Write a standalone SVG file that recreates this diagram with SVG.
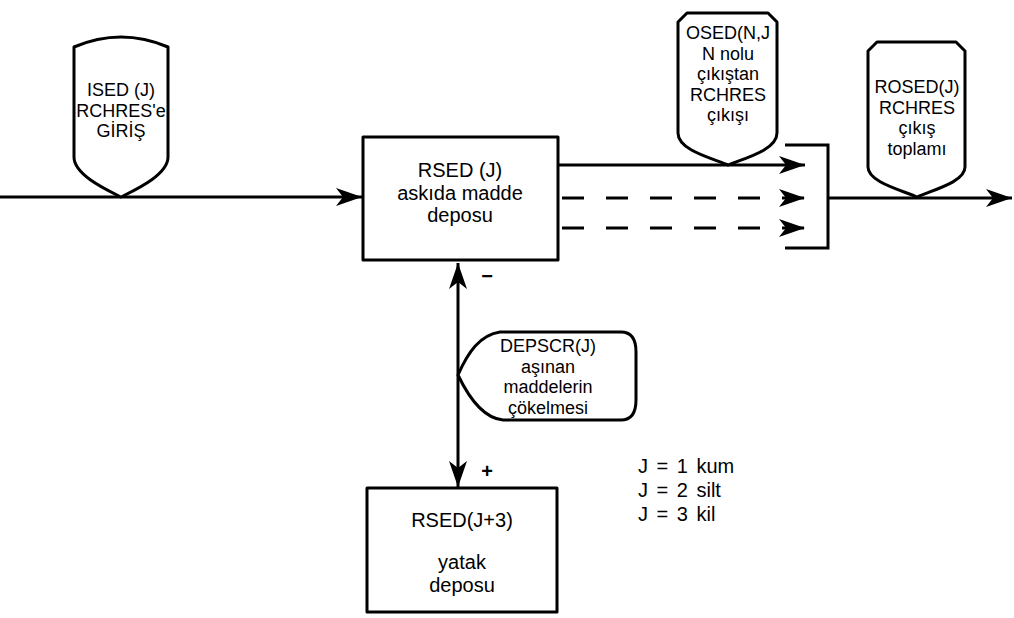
<svg xmlns="http://www.w3.org/2000/svg" width="1014" height="618" viewBox="0 0 1014 618">
<style>
  .shape { fill: #ffffff; stroke: #000000; stroke-width: 3; stroke-linejoin: round; }
  .line { fill: none; stroke: #000000; stroke-width: 3; }
  .dash { fill: none; stroke: #000000; stroke-width: 3; stroke-dasharray: 22 22; }
  text { font-family: "Liberation Sans", Arial, sans-serif; fill: #000000; }
  .box { font-size: 20px; text-anchor: middle; }
  .lbl { font-size: 18px; text-anchor: middle; }
  .sign { font-size: 20px; font-weight: bold; text-anchor: middle; }
  .leg { font-size: 20px; word-spacing: 3px; }
</style>
<defs>
  <marker id="ah" viewBox="0 0 26 18" refX="26" refY="9" markerWidth="26" markerHeight="18" markerUnits="userSpaceOnUse" orient="auto-start-reverse">
    <path d="M0,0 L26,9 L0,18 L7,9 Z" fill="#000000"/>
  </marker>
</defs>
<rect width="1014" height="618" fill="#ffffff"/>

<g id="connectors">
  <line class="line" x1="0" y1="197" x2="362" y2="197" marker-end="url(#ah)"/>
  <line class="line" x1="558" y1="165" x2="805" y2="165" marker-end="url(#ah)"/>
  <line class="dash" x1="562" y1="198" x2="805" y2="198" marker-end="url(#ah)"/>
  <line class="dash" x1="562" y1="228" x2="805" y2="228" marker-end="url(#ah)"/>
  <path class="line" d="M785,145 L828,145 L828,248 L785,248"/>
  <line class="line" x1="828" y1="198" x2="1012" y2="198" marker-end="url(#ah)"/>
  <line class="line" x1="458" y1="263" x2="458" y2="487" marker-start="url(#ah)" marker-end="url(#ah)"/>
</g>

<g id="node-ised">
  <path class="shape" d="M74,157 L74,47 Q121,27 168,47 L168,157 C168,175 135,190 121,197 C107,190 74,175 74,157 Z"/>
  <text class="lbl" x="121" y="96">ISED (J)</text>
  <text class="lbl" x="121" y="116.5">RCHRES'e</text>
  <text class="lbl" x="121" y="137">GİRİŞ</text>
</g>

<g id="node-rsed">
  <rect class="shape" x="363" y="137" width="195" height="123"/>
  <text class="box" x="460" y="177">RSED (J)</text>
  <text class="box" x="460" y="199.5">askıda madde</text>
  <text class="box" x="460" y="222">deposu</text>
</g>

<g id="node-osed">
  <path class="shape" d="M678,133 L678,22 L687,13 L768,13 L777,22 L777,133 C777,150 745,158 728,165 C711,158 678,150 678,133 Z"/>
  <text class="lbl" x="728" y="39">OSED(N,J</text>
  <text class="lbl" x="728" y="59.5">N nolu</text>
  <text class="lbl" x="728" y="80">çıkıştan</text>
  <text class="lbl" x="728" y="100.5">RCHRES</text>
  <text class="lbl" x="728" y="121">çıkışı</text>
</g>

<g id="node-rosed">
  <path class="shape" d="M868,167 L868,51 L877,42 L956,42 L965,51 L965,167 C965,182 933,190 917,197 C901,190 868,182 868,167 Z"/>
  <text class="lbl" x="917" y="93">ROSED(J)</text>
  <text class="lbl" x="917" y="113.5">RCHRES</text>
  <text class="lbl" x="917" y="134">çıkış</text>
  <text class="lbl" x="917" y="154.5">toplamı</text>
</g>

<g id="node-depscr">
  <path class="shape" d="M458,375 C468,352 480,335 500,332 L621,332 Q636,332 636,352 L636,400 Q636,420 621,420 L503,420 C482,418 468,396 458,375 Z"/>
  <text class="lbl" x="548" y="352">DEPSCR(J)</text>
  <text class="lbl" x="548" y="372.5">aşınan</text>
  <text class="lbl" x="548" y="393">maddelerin</text>
  <text class="lbl" x="548" y="413.5">çökelmesi</text>
</g>

<g id="node-bed">
  <rect class="shape" x="367" y="488" width="190" height="124"/>
  <text class="box" x="462" y="527">RSED(J+3)</text>
  <text class="box" x="462" y="569">yatak</text>
  <text class="box" x="462" y="592">deposu</text>
</g>

<g id="signs">
  <text class="sign" x="487" y="283">−</text>
  <text class="sign" x="487" y="478">+</text>
</g>

<g id="legend">
  <text class="leg" x="638" y="473">J = 1 kum</text>
  <text class="leg" x="638" y="497">J = 2 silt</text>
  <text class="leg" x="638" y="521">J = 3 kil</text>
</g>
</svg>
